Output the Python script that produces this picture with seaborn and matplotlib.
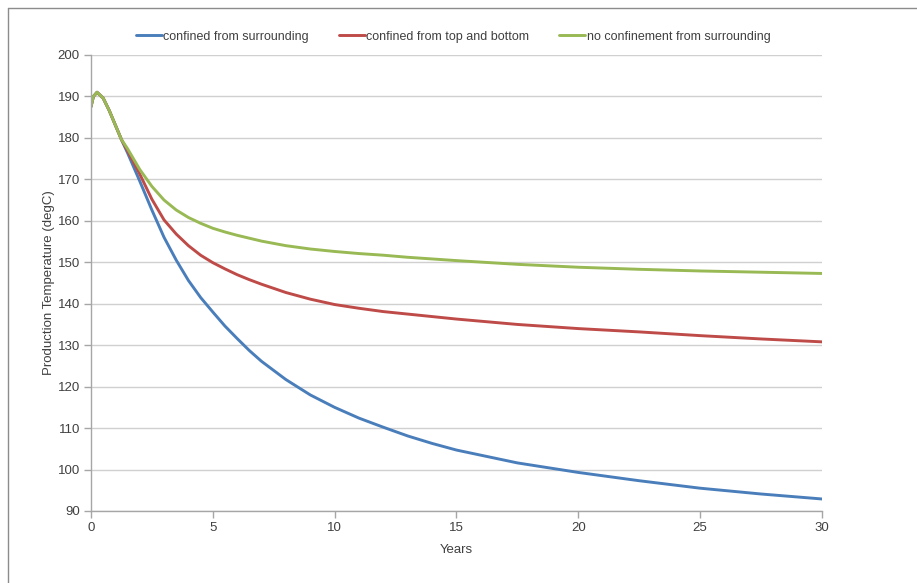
#!/usr/bin/python

'''
Production temperature vs. time for three confinement cases
'''

import numpy as np
import pandas as pd
import seaborn as sns
from matplotlib import pyplot as plt
from matplotlib.lines import Line2D

# - data ----------------------------------------------------------------------
years_start = [0.0, 0.1, 0.25, 0.5, 0.75, 1.0, 1.25]
temp_start = [187.5, 190.0, 191.0, 189.6, 186.6, 183.1, 179.6]

years_tail = [1.5, 2.0, 2.5, 3.0, 3.5, 4.0, 4.5, 5.0, 5.5, 6.0, 6.5, 7.0, 8.0,
              9.0, 10.0, 11.0, 12.0, 13.0, 14.0, 15.0, 17.5, 20.0, 22.5, 25.0,
              27.5, 30.0]

temp_confined = [176.4, 169.6, 162.6, 156.0, 150.5, 145.6, 141.5, 138.0, 134.6,
                 131.6, 128.7, 126.1, 121.7, 118.0, 115.0, 112.4, 110.2, 108.1,
                 106.3, 104.7, 101.6, 99.3, 97.3, 95.5, 94.1, 92.9]
temp_top_bottom = [176.9, 171.3, 165.2, 160.2, 156.8, 154.0, 151.7, 149.9, 148.4,
                   147.0, 145.8, 144.7, 142.7, 141.1, 139.8, 138.9, 138.1, 137.5,
                   136.9, 136.3, 135.0, 134.0, 133.2, 132.3, 131.5, 130.8]
temp_no_confinement = [177.4, 172.4, 168.3, 165.0, 162.6, 160.8, 159.4, 158.2, 157.3,
                       156.5, 155.8, 155.1, 154.0, 153.2, 152.6, 152.1, 151.7, 151.2,
                       150.8, 150.4, 149.5, 148.8, 148.3, 147.9, 147.6, 147.3]

series_names = ['confined from surrounding', 'confined from top and bottom',
                'no confinement from surrounding']
series_colors = ['#4A7EBB', '#BE4B48', '#98B954']

# - build long table ----------------------------------------------------------
frames = []
for name, tail in zip(series_names,
                      [temp_confined, temp_top_bottom, temp_no_confinement]):
    frames.append(pd.DataFrame({'Years': years_start + years_tail,
                                'temp': temp_start + tail,
                                'series': name}))
df = pd.concat(frames, ignore_index=True)

# - plot ----------------------------------------------------------------------
sns.set_style('white')
plt.rcParams['font.family'] = ['Liberation Sans', 'DejaVu Sans']
fs = 9.5

fig = plt.figure(figsize=(9.17, 5.83), dpi=100)
ax = fig.add_axes([0.0992, 0.1235, 0.7972, 0.7822])

sns.lineplot(data=df, x='Years', y='temp', hue='series', hue_order=series_names,
             palette=series_colors, linewidth=2.1, ax=ax, legend=False)

ax.set_xlim(0, 30)
ax.set_ylim(90, 200)
ax.set_xticks(np.arange(0, 31, 5))
ax.set_yticks(np.arange(90, 201, 10))
ax.yaxis.grid(True, color='#D0D0D0', linewidth=1.0)
ax.set_axisbelow(True)
for side in ['top', 'right']:
    ax.spines[side].set_visible(False)
for side in ['left', 'bottom']:
    ax.spines[side].set_color('#A6A6A6')
    ax.spines[side].set_linewidth(1.0)
ax.tick_params(axis='both', which='major', length=5, width=1.0, color='#A6A6A6',
               labelsize=fs, labelcolor='#404040', pad=3, direction='out',
               bottom=True, left=True)
ax.set_xlabel('Years', fontsize=fs, color='#404040', labelpad=7)
ax.set_ylabel('Production Temperature (degC)', fontsize=fs, color='#404040',
              labelpad=2)

handles = [Line2D([0], [0], color=c, linewidth=2.1) for c in series_colors]
fig.legend(handles, series_names, loc='center', ncol=3, frameon=False,
           bbox_to_anchor=(0.494, 0.937), fontsize=9, handlelength=2.1,
           handletextpad=0.1, columnspacing=2.4, labelcolor='#404040')

# outer frame (top and left edges only visible in the reference)
fig.add_artist(Line2D([0.0087, 1.0], [0.986, 0.986], color='#8C8C8C', linewidth=1.0))
fig.add_artist(Line2D([0.0087, 0.0087], [0.0, 0.986], color='#8C8C8C', linewidth=1.0))

plt.savefig('out.png', dpi=100)
